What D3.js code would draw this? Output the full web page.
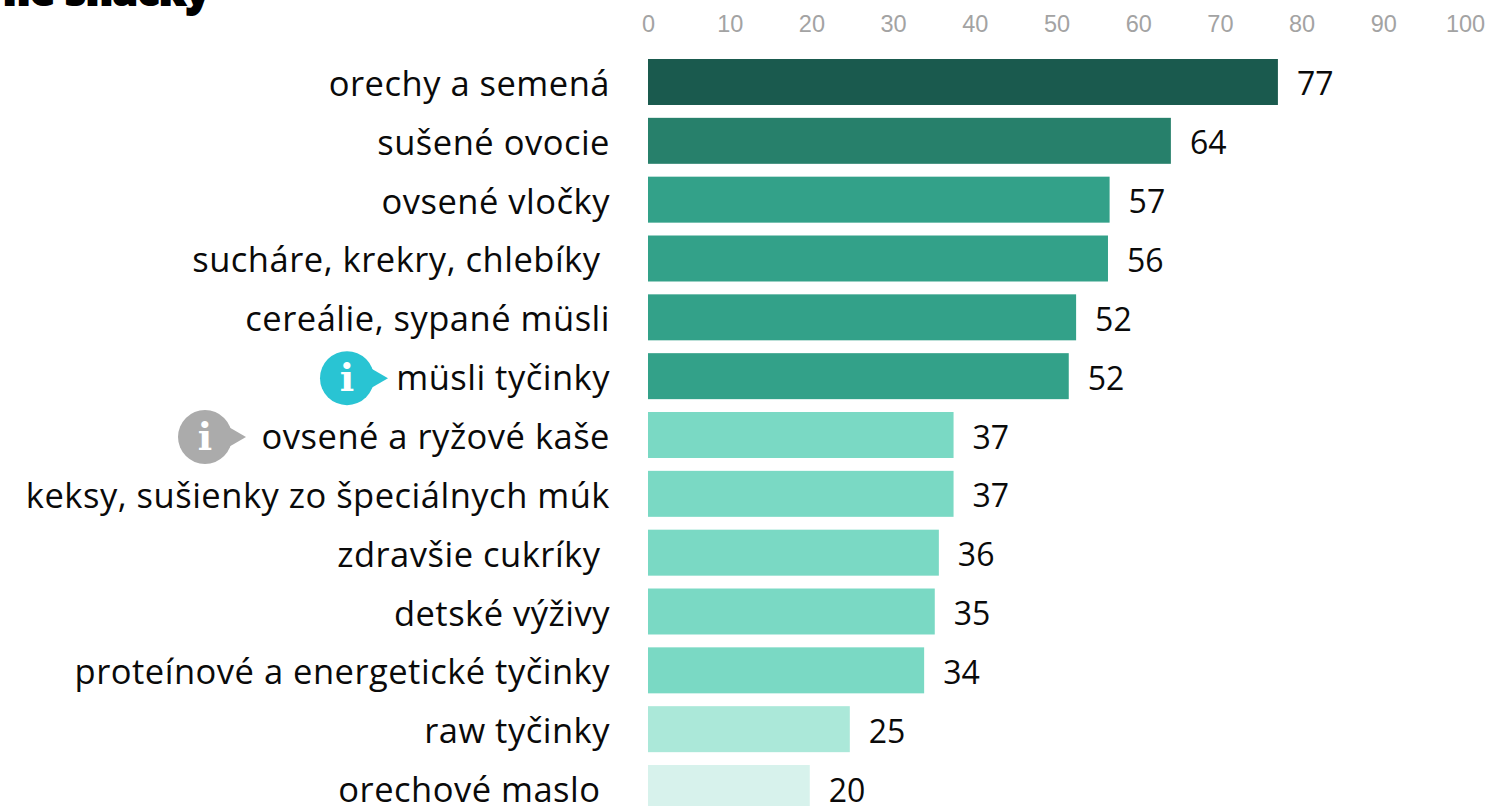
<!DOCTYPE html>
<html><head><meta charset="utf-8">
<script src="https://cdn.jsdelivr.net/npm/d3@7"></script>
<style>html,body{margin:0;padding:0;background:#fff;overflow:hidden}svg{display:block}text{font-family:"Open Sans",sans-serif}</style>
</head><body><svg id="c" width="1489" height="806"></svg>
<script>
const categories=["orechy a semená","sušené ovocie","ovsené vločky","sucháre, krekry, chlebíky ","cereálie, sypané müsli","müsli tyčinky","ovsené a ryžové kaše","keksy, sušienky zo špeciálnych múk","zdravšie cukríky ","detské výživy","proteínové a energetické tyčinky","raw tyčinky","orechové maslo "];
const barValues=[77.1,64,56.5,56.3,52.4,51.5,37.4,37.4,35.6,35.1,33.8,24.7,19.8];
const valueLabels=["77","64","57","56","52","52","37","37","36","35","34","25","20"];
const colors=["#1a5a4e","#27806b","#33a189","#33a189","#33a189","#33a189","#7ad9c4","#7ad9c4","#7ad9c4","#7ad9c4","#7ad9c4","#abe8d9","#d7f2ec"];
const ticks=[0,10,20,30,40,50,60,70,80,90,100];
const infoMarks=[{cat:"müsli tyčinky",color:"#29c4d3",cx:347},{cat:"ovsené a ryžové kaše",color:"#ababab",cx:205}];
const titleTail="ne snacky";
const svg=d3.select("#c");
const x=d3.scaleLinear().domain([0,100]).range([648,1465]);
const y=d3.scaleBand().domain(categories).range([59,811]).paddingInner(12.85/58.85).paddingOuter(0);
svg.append("text").text(titleTail).attr("x",210).attr("y",5).attr("text-anchor","end").attr("font-size",40).attr("font-weight",800).attr("fill","#000").attr("stroke","#000").attr("stroke-width",2);
const axis=d3.axisTop(x).tickValues(ticks).tickSize(0).tickPadding(0);
const ag=svg.append("g").attr("transform","translate(0,32)").call(axis);
ag.select(".domain").remove();
ag.selectAll("text").attr("fill","#a3a3a3").style("font-size","23.5px").style("font-family","'Liberation Sans',sans-serif").attr("dy",0);
svg.append("g").selectAll("rect").data(categories).join("rect")
 .attr("x",x(0)).attr("y",d=>y(d)).attr("height",y.bandwidth())
 .attr("width",(d,i)=>x(barValues[i])-x(0)).attr("fill",(d,i)=>colors[i]);
svg.append("g").selectAll("text").data(categories).join("text")
 .text(d=>d).style("white-space","pre").style("letter-spacing","0.5px").attr("x",610).attr("y",d=>y(d)+y.bandwidth()/2+14)
 .attr("text-anchor","end").attr("font-size",34.5).attr("fill","#0a0a0a");
svg.append("g").selectAll("text").data(categories).join("text")
 .text((d,i)=>valueLabels[i]).attr("x",(d,i)=>x(barValues[i])+19).attr("y",d=>y(d)+y.bandwidth()/2+13.5)
 .attr("font-size",32).attr("fill","#0a0a0a");
const ig=svg.append("g").selectAll("g").data(infoMarks).join("g")
 .attr("transform",d=>`translate(${d.cx},${y(d.cat)+y.bandwidth()/2+2})`);
ig.append("circle").attr("r",27).attr("fill",d=>d.color);
ig.append("path").attr("d","M22,-11 L41,0 L22,11 Z").attr("fill",d=>d.color);
ig.append("text").text("i").attr("text-anchor","middle").attr("y",13).style("font-size","38px").style("font-weight",700).attr("fill","#fff").style("font-family","'DejaVu Serif',serif");
</script></body></html>
